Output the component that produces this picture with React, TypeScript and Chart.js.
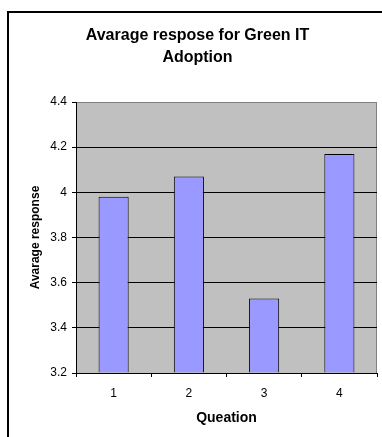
import React, { useEffect, useRef } from "react";
import { Chart, registerables } from "chart.js";

Chart.register(...registerables);

const titleLines = ["Avarage respose for Green IT", "Adoption"];
const categories = ["1", "2", "3", "4"];
const responses = [3.98, 4.07, 3.53, 4.17];
const yTickValues = [3.2, 3.4, 3.6, 3.8, 4.0, 4.2, 4.4];
const yTickLabels = ["3.2", "3.4", "3.6", "3.8", "4", "4.2", "4.4"];
const xAxisTitle = "Queation";
const yAxisTitle = "Avarage response";

const FONT = '"Liberation Sans", Arial, Helvetica, sans-serif';

const framePlugin = {
  id: "frame",
  beforeDraw(chart: any) {
    const { ctx, chartArea } = chart;
    ctx.save();
    ctx.fillStyle = "#ffffff";
    ctx.fillRect(0, 0, chart.width, chart.height);
    ctx.strokeStyle = "#000000";
    ctx.lineWidth = 2;
    ctx.strokeRect(8, 12, chart.width + 20, chart.height + 20);
    ctx.fillStyle = "#C0C0C0";
    ctx.fillRect(chartArea.left, chartArea.top, chartArea.right - chartArea.left, chartArea.bottom - chartArea.top);
    ctx.strokeStyle = "#808080";
    ctx.lineWidth = 1;
    ctx.beginPath();
    ctx.moveTo(chartArea.right - 0.5, chartArea.top);
    ctx.lineTo(chartArea.right - 0.5, chartArea.bottom);
    ctx.stroke();
    ctx.restore();
  },
};

export default function App() {
  const ref = useRef<HTMLCanvasElement>(null);
  useEffect(() => {
    if (!ref.current) return;
    const chart = new Chart(ref.current, {
      type: "bar",
      data: {
        labels: categories,
        datasets: [
          {
            data: responses,
            backgroundColor: "#9999FF",
            borderColor: "#000000",
            borderWidth: 1,
            base: yTickValues[0],
            categoryPercentage: 1,
            barPercentage: 0.4,
          },
        ],
      },
      options: {
        animation: false,
        responsive: false,
        devicePixelRatio: 1,
        layout: { padding: { left: 18, right: 5, top: 0, bottom: 0 } },
        plugins: {
          legend: { display: false },
          tooltip: { enabled: false },
          title: {
            display: true,
            text: titleLines,
            color: "#000000",
            font: { family: FONT, size: 16, weight: "bold", lineHeight: 22 / 16 },
            padding: { top: 25, bottom: 33 },
          },
        },
        scales: {
          x: {
            offset: true,
            afterFit: (s: any) => {
              s.height = 64;
            },
            grid: {
              offset: true,
              drawOnChartArea: false,
              drawTicks: true,
              tickLength: 4,
              color: "#000000",
              tickColor: "#000000",
            },
            border: { display: true, color: "#000000", width: 1 },
            ticks: {
              color: "#000000",
              padding: 9,
              font: { family: FONT, size: 12 },
            },
            title: {
              display: true,
              text: xAxisTitle,
              color: "#000000",
              font: { family: FONT, size: 14, weight: "bold" },
              padding: { top: 0, bottom: 10 },
            },
          },
          y: {
            min: yTickValues[0],
            max: yTickValues[yTickValues.length - 1],
            afterFit: (s: any) => {
              s.width = 76 - 18;
            },
            afterBuildTicks: (s: any) => {
              s.ticks = yTickValues.map((v) => ({ value: v }));
            },
            grid: {
              drawTicks: true,
              tickLength: 4,
              color: (c: any) =>
                c.tick && Math.abs(c.tick.value - yTickValues[yTickValues.length - 1]) < 1e-6
                  ? "#808080"
                  : "#000000",
              tickColor: "#000000",
            },
            border: { display: true, color: "#000000", width: 1 },
            ticks: {
              color: "#000000",
              padding: 5,
              font: { family: FONT, size: 12 },
              callback: (_v: any, i: number) => yTickLabels[i],
            },
            title: {
              display: true,
              text: yAxisTitle,
              color: "#000000",
              font: { family: FONT, size: 12, weight: "bold" },
              padding: { top: 10, bottom: 0 },
            },
          },
        },
      },
      plugins: [framePlugin],
    } as any);
    return () => chart.destroy();
  }, []);
  return (
    <div style={{ position: "absolute", left: 0, top: 0, width: 382, height: 437, overflow: "hidden" }}>
      <canvas ref={ref} width={382} height={437} style={{ width: 382, height: 437, display: "block" }} />
    </div>
  );
}
